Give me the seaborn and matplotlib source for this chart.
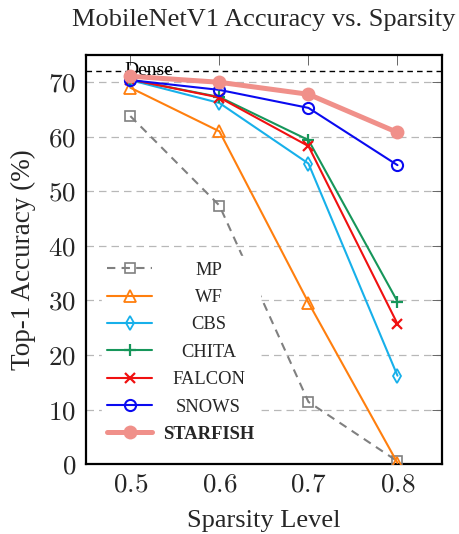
import matplotlib
matplotlib.use("Agg")
import matplotlib.pyplot as plt
import seaborn as sns
import pandas as pd

sparsity = [0.5, 0.6, 0.7, 0.8]
mp = [63.8, 47.4, 11.4, 0.5]
wf = [69.0, 61.0, 29.6, 0.2]
cbs = [70.4, 66.2, 55.1, 16.2]
chita = [70.5, 67.3, 59.4, 29.8]
falcon = [70.5, 67.2, 58.3, 25.7]
snows = [70.4, 68.6, 65.3, 54.8]
starfish = [71.1, 70.0, 67.8, 60.8]
dense = 72.0
x_ticks = [0.5, 0.6, 0.7, 0.8]
y_ticks = [0, 10, 20, 30, 40, 50, 60, 70]

sns.set_style("white")
plt.rcParams['font.family'] = ['Liberation Serif', 'DejaVu Serif']
plt.rcParams['mathtext.fontset'] = 'cm'

fig = plt.figure(figsize=(4.59, 5.34), dpi=100)
ax = fig.add_axes([0.187, 0.131, 0.776, 0.766])

series = [
    ("MP", mp, dict(color="#808080", marker="s", ls=(0, (4, 3)), lw=1.5, ms=7, mfc="none", mew=1.2)),
    ("WF", wf, dict(color="#FF7F0E", marker="^", ls="-", lw=1.5, ms=8, mfc="none", mew=1.3)),
    ("CBS", cbs, dict(color="#17B0EA", marker="d", ls="-", lw=1.5, ms=7, mfc="none", mew=1.3)),
    ("CHITA", chita, dict(color="#16965A", marker="+", ls="-", lw=1.5, ms=9, mew=1.6)),
    ("FALCON", falcon, dict(color="#F01010", marker="x", ls="-", lw=1.5, ms=7, mew=1.6)),
    ("SNOWS", snows, dict(color="#0A0AF0", marker="o", ls="-", lw=1.5, ms=8, mfc="none", mew=1.5)),
    ("STARFISH", starfish, dict(color="#F0908A", marker="o", ls="-", lw=3.6, ms=10, mfc="#F0908A", mew=0)),
]

ax.axhline(dense, color="black", ls=(0, (4, 3)), lw=1.0, zorder=1)
ax.text(0.4935, dense - 0.6, "Dense", fontsize=14, ha="left", va="baseline", color="black")

for name, vals, st in series:
    df = pd.DataFrame({"x": sparsity, "y": vals})
    sns.lineplot(data=df, x="x", y="y", ax=ax, label=name, color=st["color"],
                 marker=st["marker"], linestyle=st["ls"], linewidth=st["lw"],
                 markersize=st["ms"], markerfacecolor=st.get("mfc", st["color"]),
                 markeredgecolor=st["color"], markeredgewidth=st["mew"], zorder=3)

ax.set_xlim(0.45, 0.85)
ax.set_ylim(0, 75.0)
ax.set_xticks(x_ticks)
ax.set_xticklabels([f"${v:.1f}$" for v in x_ticks])
ax.set_yticks(y_ticks)
ax.set_yticklabels([f"${v}$" for v in y_ticks])
ax.yaxis.grid(True, color="#b8b8b8", ls=(0, (6, 4)), lw=0.9)
ax.set_axisbelow(True)
ax.tick_params(axis="both", direction="in", length=7, width=0.7, labelsize=19.5,
               top=True, right=True, color="#666666")
ax.tick_params(axis="y", pad=7)
ax.tick_params(axis="x", pad=6)
for s in ax.spines.values():
    s.set_color("black")
    s.set_linewidth(1.6)

ax.set_xlabel("Sparsity Level", fontsize=19, labelpad=9)
ax.set_ylabel("Top-1 Accuracy (%)", fontsize=19.5, labelpad=9)
ax.set_title("MobileNetV1 Accuracy vs. Sparsity", fontsize=19, pad=21)

leg = ax.legend(loc="upper left", bbox_to_anchor=(0.045, 0.508), frameon=True, fontsize=13.3,
                handlelength=2.4, handletextpad=0.6, labelspacing=0.56, borderpad=0.3,
                borderaxespad=0)
leg.get_frame().set_facecolor("white")
leg.get_frame().set_edgecolor("white")
leg.get_frame().set_alpha(1.0)
for t in leg.get_texts():
    if t.get_text() == "STARFISH":
        t.set_fontweight("bold")

# centre the legend labels in their column
fig.canvas.draw()
renderer = fig.canvas.get_renderer()
widths = [t.get_window_extent(renderer).width for t in leg.get_texts()]
wmax = max(widths)
for t, w in zip(leg.get_texts(), widths):
    t.set_position(((wmax - w) / 2.0, 0))

fig.savefig("out.png", dpi=100)
